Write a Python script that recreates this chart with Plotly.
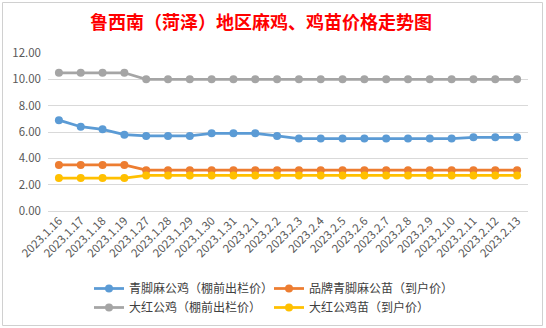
import plotly.graph_objects as go

dates = ["2023.1.16", "2023.1.17", "2023.1.18", "2023.1.19", "2023.1.27", "2023.1.28",
         "2023.1.29", "2023.1.30", "2023.1.31", "2023.2.1", "2023.2.2", "2023.2.3",
         "2023.2.4", "2023.2.5", "2023.2.6", "2023.2.7", "2023.2.8", "2023.2.9",
         "2023.2.10", "2023.2.11", "2023.2.12", "2023.2.13"]

blue_name = "青脚麻公鸡（棚前出栏价）"
blue_vals = [6.9, 6.4, 6.2, 5.8, 5.7, 5.7, 5.7, 5.9, 5.9, 5.9, 5.7, 5.5,
             5.5, 5.5, 5.5, 5.5, 5.5, 5.5, 5.5, 5.6, 5.6, 5.6]

orange_name = "品牌青脚麻公苗（到户价）"
orange_vals = [3.5, 3.5, 3.5, 3.5, 3.1, 3.1, 3.1, 3.1, 3.1, 3.1, 3.1, 3.1,
               3.1, 3.1, 3.1, 3.1, 3.1, 3.1, 3.1, 3.1, 3.1, 3.1]

gray_name = "大红公鸡（棚前出栏价）"
gray_vals = [10.5, 10.5, 10.5, 10.5, 10.0, 10.0, 10.0, 10.0, 10.0, 10.0, 10.0, 10.0,
             10.0, 10.0, 10.0, 10.0, 10.0, 10.0, 10.0, 10.0, 10.0, 10.0]

yellow_name = "大红公鸡苗（到户价）"
yellow_vals = [2.5, 2.5, 2.5, 2.5, 2.7, 2.7, 2.7, 2.7, 2.7, 2.7, 2.7, 2.7,
               2.7, 2.7, 2.7, 2.7, 2.7, 2.7, 2.7, 2.7, 2.7, 2.7]

y_ticks = [0, 2, 4, 6, 8, 10, 12]

title_text = "鲁西南（菏泽）地区麻鸡、鸡苗价格走势图"

FONT = "Noto Sans CJK SC"

fig = go.Figure()
series = [
    (blue_name, blue_vals, "#5B9BD5", "legend"),
    (orange_name, orange_vals, "#ED7D31", "legend2"),
    (gray_name, gray_vals, "#A5A5A5", "legend"),
    (yellow_name, yellow_vals, "#FFC000", "legend2"),
]
for name, vals, color, lg in series:
    fig.add_trace(go.Scatter(
        x=dates, y=vals, name=name, mode="lines+markers",
        line=dict(color=color, width=2.75),
        marker=dict(color=color, size=8),
        legend=lg,
    ))

legend_common = dict(
    orientation="v", xref="container", yref="container",
    yanchor="top", xanchor="left",
    font=dict(family=FONT, size=12, color="#404040"),
    bgcolor="rgba(0,0,0,0)", itemwidth=30, tracegroupgap=0,
)

fig.update_layout(
    width=546, height=328,
    margin=dict(l=48, r=18, t=53, b=117, autoexpand=False),
    paper_bgcolor="white", plot_bgcolor="white",
    title=dict(text="<b>" + title_text + "</b>", x=261 / 546, xanchor="center",
               y=1 - 23 / 328, yanchor="middle", xref="container",
               font=dict(family=FONT, size=18, color="#FF0000")),
    showlegend=True,
    legend=dict(x=89 / 546, y=1 - 274 / 328, **legend_common),
    legend2=dict(x=269 / 546, y=1 - 274 / 328, **legend_common),
    xaxis=dict(
        type="category", tickangle=-45, showgrid=False, showline=False,
        ticks="", tickfont=dict(family=FONT, size=11.5, color="#595959"),
        range=[-0.5, len(dates) - 0.5],
    ),
    yaxis=dict(
        range=[0, 12], tickvals=y_ticks,
        ticktext=[f"{v:.2f}" for v in y_ticks],
        showgrid=True, gridcolor="#D9D9D9", gridwidth=1,
        zeroline=True, zerolinecolor="#D9D9D9", zerolinewidth=1,
        showline=False, ticks="", ticklen=0, ticklabelstandoff=6,
        tickfont=dict(family=FONT, size=11.5, color="#595959"),
    ),
    shapes=[dict(
        type="rect", xref="paper", yref="paper",
        x0=(2.5 - 48) / 480, x1=(542.5 - 48) / 480,
        y0=(211 - 325.5) / 158, y1=(211 - 2.5) / 158,
        line=dict(color="#D0D0D0", width=1), fillcolor="rgba(0,0,0,0)",
        layer="below",
    )],
)

fig.write_html("out.html")
